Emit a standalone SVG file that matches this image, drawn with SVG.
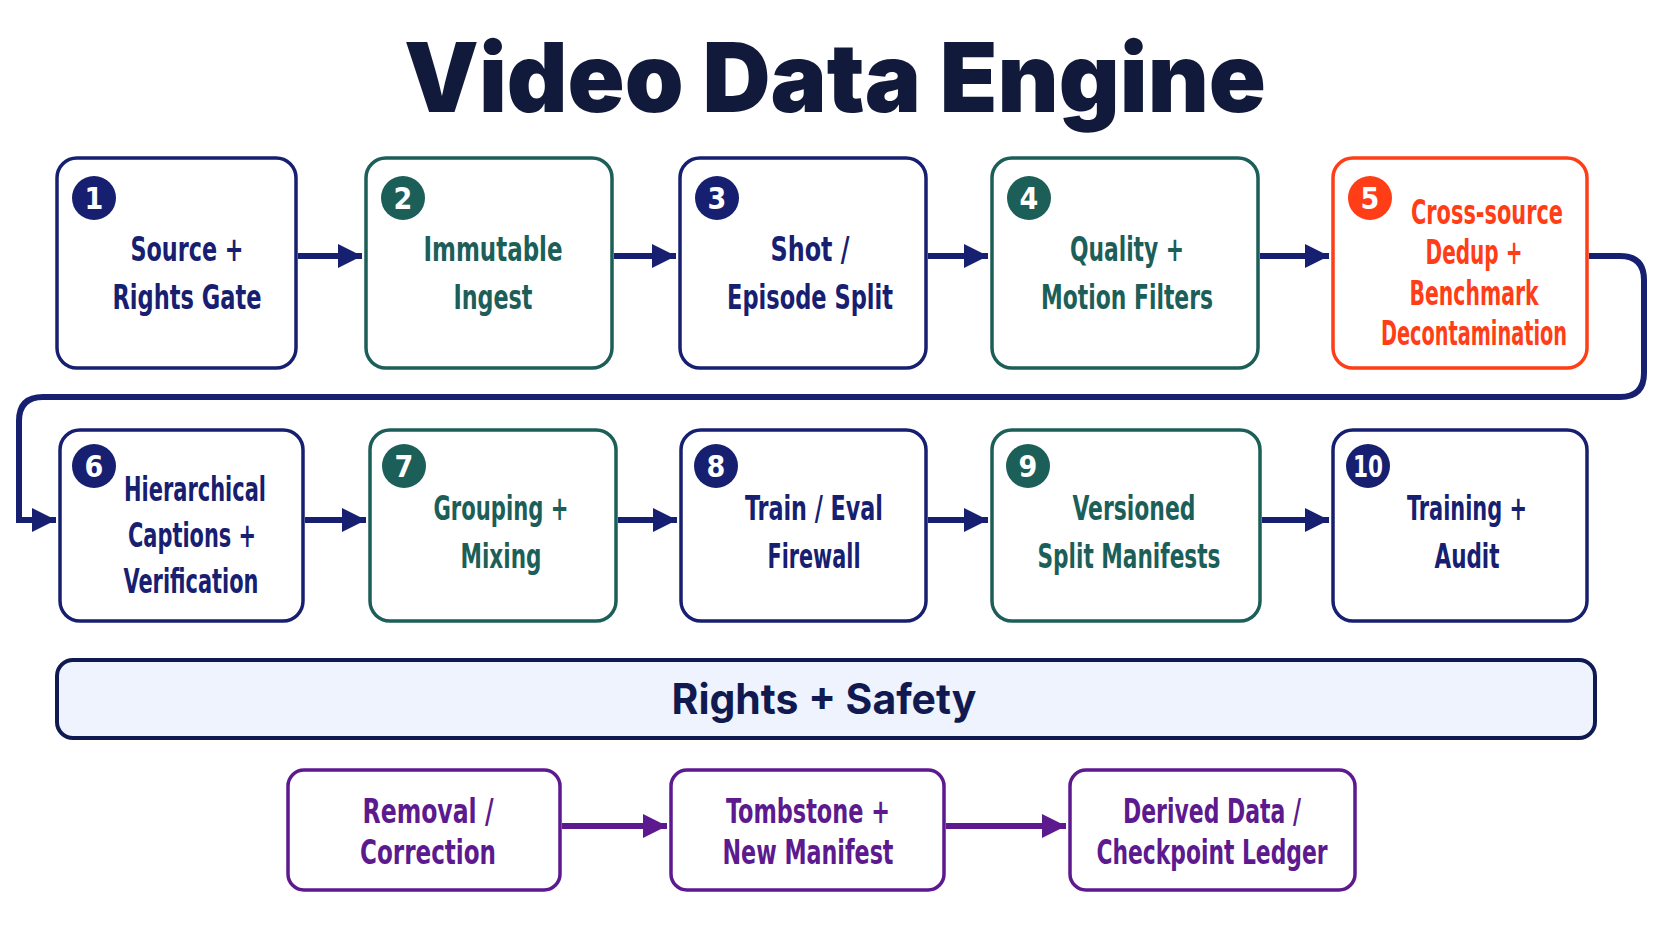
<svg xmlns="http://www.w3.org/2000/svg" width="1672" height="941" viewBox="0 0 1672 941">
<style>
.b{fill:#fff;stroke-width:3.5}
.n{stroke:#172070}.t{stroke:#1c5e58}.r{stroke:#ff3d17}.p{stroke:#5c1a8e}
.tx{font-family:"DejaVu Sans Condensed","DejaVu Sans",sans-serif;font-weight:bold;font-size:34px;text-anchor:middle}
.cn{fill:#172070}.ct{fill:#1c5e58}.cr{fill:#ff3d17}.cp{fill:#5c1a8e}
.bd{font-family:"DejaVu Sans Condensed",sans-serif;font-weight:bold;font-size:30px;fill:#fff;text-anchor:middle}
.c{fill:none;stroke-width:6}
</style>
<defs>
<marker id="an" viewBox="0 0 10 10" refX="10" refY="5" markerWidth="4" markerHeight="5.5" markerUnits="strokeWidth" orient="auto"><path d="M0,0L10,5L0,10z" fill="#172070"/></marker>
<marker id="ap" viewBox="0 0 10 10" refX="10" refY="5" markerWidth="4" markerHeight="6" markerUnits="strokeWidth" orient="auto"><path d="M0,0L10,5L0,10z" fill="#5c1a8e"/></marker>
</defs>
<rect width="1672" height="941" fill="#fff"/>
<text x="835" y="112" font-family="Inter,'DejaVu Sans',sans-serif" font-weight="900" font-size="96" fill="#111a3a" text-anchor="middle" textLength="862" lengthAdjust="spacingAndGlyphs">Video Data Engine</text>
<g id="connectors">
<path class="c" stroke="#172070" marker-end="url(#an)" d="M298,256H362"/>
<path class="c" stroke="#172070" marker-end="url(#an)" d="M614,256H676"/>
<path class="c" stroke="#172070" marker-end="url(#an)" d="M928,256H988"/>
<path class="c" stroke="#172070" marker-end="url(#an)" d="M1260,256H1329"/>
<path class="c" stroke="#172070" marker-end="url(#an)" d="M1589,256H1620Q1644,256 1644,280V373Q1644,397 1620,397H43Q19,397 19,421V520H56"/>
<path class="c" stroke="#172070" marker-end="url(#an)" d="M305,520H366"/>
<path class="c" stroke="#172070" marker-end="url(#an)" d="M618,520H677"/>
<path class="c" stroke="#172070" marker-end="url(#an)" d="M928,520H988"/>
<path class="c" stroke="#172070" marker-end="url(#an)" d="M1262,520H1329"/>
<path class="c" stroke="#5c1a8e" stroke-width="5" marker-end="url(#ap)" d="M562,826H667"/>
<path class="c" stroke="#5c1a8e" stroke-width="5" marker-end="url(#ap)" d="M946,826H1066"/>
</g>
<g id="n1"><rect class="b n" x="57" y="158" width="239" height="210" rx="20"/><circle cx="94" cy="198" r="22" fill="#172070"/><text class="bd" x="94" y="209">1</text>
<text class="tx cn" x="187" y="261" textLength="113" lengthAdjust="spacingAndGlyphs">Source +</text><text class="tx cn" x="187" y="309" textLength="149" lengthAdjust="spacingAndGlyphs">Rights Gate</text></g>
<g id="n2"><rect class="b t" x="366" y="158" width="246" height="210" rx="20"/><circle cx="403" cy="198" r="22" fill="#1c5e58"/><text class="bd" x="403" y="209">2</text>
<text class="tx ct" x="493" y="261" textLength="139" lengthAdjust="spacingAndGlyphs">Immutable</text><text class="tx ct" x="493" y="309" textLength="79" lengthAdjust="spacingAndGlyphs">Ingest</text></g>
<g id="n3"><rect class="b n" x="680" y="158" width="246" height="210" rx="20"/><circle cx="717" cy="198" r="22" fill="#172070"/><text class="bd" x="717" y="209">3</text>
<text class="tx cn" x="810" y="261" textLength="79" lengthAdjust="spacingAndGlyphs">Shot /</text><text class="tx cn" x="810" y="309" textLength="166" lengthAdjust="spacingAndGlyphs">Episode Split</text></g>
<g id="n4"><rect class="b t" x="992" y="158" width="266" height="210" rx="20"/><circle cx="1029" cy="198" r="22" fill="#1c5e58"/><text class="bd" x="1029" y="209">4</text>
<text class="tx ct" x="1127" y="261" textLength="114" lengthAdjust="spacingAndGlyphs">Quality +</text><text class="tx ct" x="1127" y="309" textLength="172" lengthAdjust="spacingAndGlyphs">Motion Filters</text></g>
<g id="n5"><rect class="b r" x="1333" y="158" width="254" height="210" rx="20"/><circle cx="1370" cy="198" r="22" fill="#ff3d17"/><text class="bd" x="1370" y="209">5</text>
<text class="tx cr" x="1487" y="224" textLength="152" lengthAdjust="spacingAndGlyphs">Cross-source</text><text class="tx cr" x="1474" y="264" textLength="97" lengthAdjust="spacingAndGlyphs">Dedup +</text><text class="tx cr" x="1474" y="305" textLength="129" lengthAdjust="spacingAndGlyphs">Benchmark</text><text class="tx cr" x="1474" y="345" textLength="186" lengthAdjust="spacingAndGlyphs">Decontamination</text></g>
<g id="n6"><rect class="b n" x="60" y="430" width="243" height="191" rx="20"/><circle cx="94" cy="466" r="22" fill="#172070"/><text class="bd" x="94" y="477">6</text>
<text class="tx cn" x="195" y="501" textLength="142" lengthAdjust="spacingAndGlyphs">Hierarchical</text><text class="tx cn" x="192" y="547" textLength="128" lengthAdjust="spacingAndGlyphs">Captions +</text><text class="tx cn" x="191" y="593" textLength="135" lengthAdjust="spacingAndGlyphs">Verification</text></g>
<g id="n7"><rect class="b t" x="370" y="430" width="246" height="191" rx="20"/><circle cx="404" cy="466" r="22" fill="#1c5e58"/><text class="bd" x="404" y="477">7</text>
<text class="tx ct" x="501" y="520" textLength="135" lengthAdjust="spacingAndGlyphs">Grouping +</text><text class="tx ct" x="501" y="568" textLength="81" lengthAdjust="spacingAndGlyphs">Mixing</text></g>
<g id="n8"><rect class="b n" x="681" y="430" width="245" height="191" rx="20"/><circle cx="716" cy="466" r="22" fill="#172070"/><text class="bd" x="716" y="477">8</text>
<text class="tx cn" x="814" y="520" textLength="138" lengthAdjust="spacingAndGlyphs">Train / Eval</text><text class="tx cn" x="814" y="568" textLength="93" lengthAdjust="spacingAndGlyphs">Firewall</text></g>
<g id="n9"><rect class="b t" x="992" y="430" width="268" height="191" rx="20"/><circle cx="1028" cy="466" r="22" fill="#1c5e58"/><text class="bd" x="1028" y="477">9</text>
<text class="tx ct" x="1134" y="520" textLength="123" lengthAdjust="spacingAndGlyphs">Versioned</text><text class="tx ct" x="1129" y="568" textLength="183" lengthAdjust="spacingAndGlyphs">Split Manifests</text></g>
<g id="n10"><rect class="b n" x="1333" y="430" width="254" height="191" rx="20"/><circle cx="1368" cy="466" r="22" fill="#172070"/><text class="bd" x="1368" y="477" font-size="26" textLength="30" lengthAdjust="spacingAndGlyphs">10</text>
<text class="tx cn" x="1467" y="520" textLength="120" lengthAdjust="spacingAndGlyphs">Training +</text><text class="tx cn" x="1467" y="568" textLength="65" lengthAdjust="spacingAndGlyphs">Audit</text></g>
<g id="rights"><rect x="57" y="660" width="1538" height="78" rx="16" fill="#eef3fd" stroke="#0f1a50" stroke-width="4"/>
<text x="824" y="714" font-family="Inter,'DejaVu Sans',sans-serif" font-weight="bold" font-size="42" fill="#111a50" text-anchor="middle" textLength="305" lengthAdjust="spacingAndGlyphs">Rights + Safety</text></g>
<g id="b1"><rect class="b p" x="288" y="770" width="272" height="120" rx="16"/><text class="tx cp" x="428" y="823" textLength="131" lengthAdjust="spacingAndGlyphs">Removal /</text><text class="tx cp" x="428" y="864" textLength="136" lengthAdjust="spacingAndGlyphs">Correction</text></g>
<g id="b2"><rect class="b p" x="671" y="770" width="273" height="120" rx="16"/><text class="tx cp" x="808" y="823" textLength="164" lengthAdjust="spacingAndGlyphs">Tombstone +</text><text class="tx cp" x="808" y="864" textLength="171" lengthAdjust="spacingAndGlyphs">New Manifest</text></g>
<g id="b3"><rect class="b p" x="1070" y="770" width="285" height="120" rx="16"/><text class="tx cp" x="1212" y="823" textLength="178" lengthAdjust="spacingAndGlyphs">Derived Data /</text><text class="tx cp" x="1212" y="864" textLength="231" lengthAdjust="spacingAndGlyphs">Checkpoint Ledger</text></g>
</svg>
